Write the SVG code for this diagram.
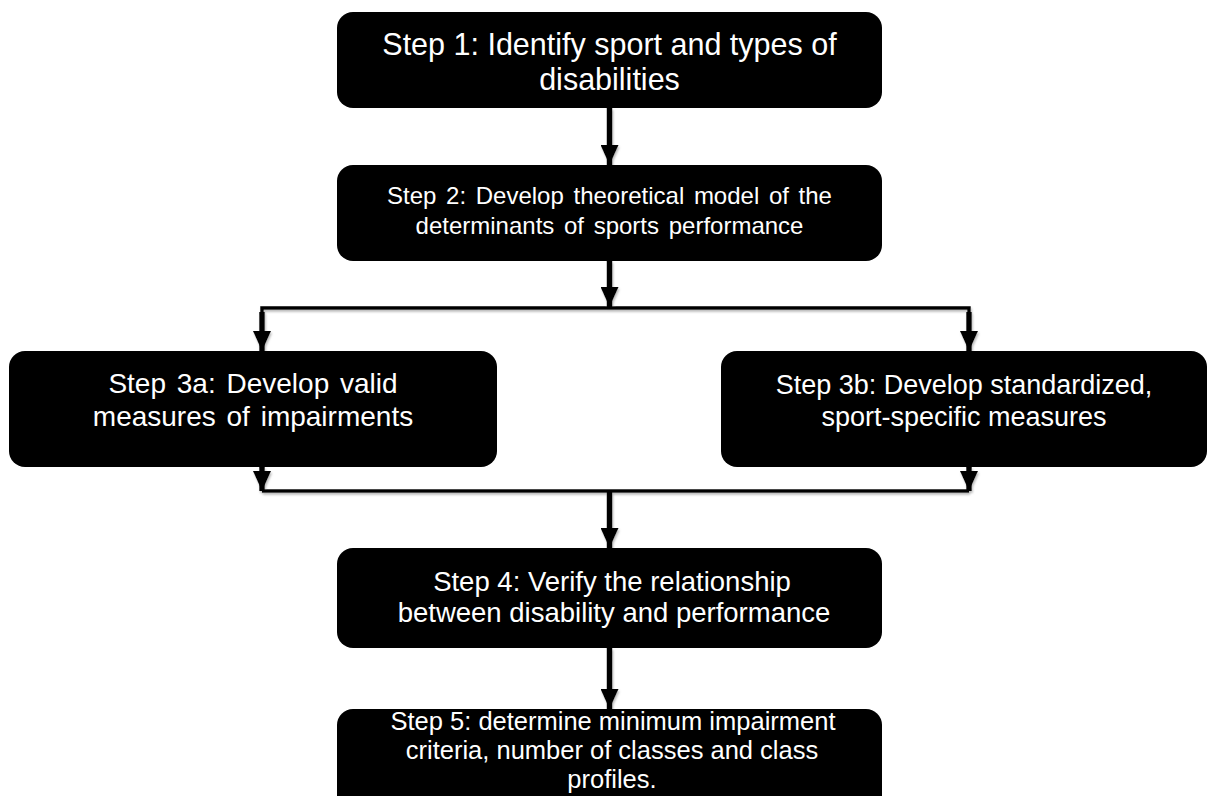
<svg xmlns="http://www.w3.org/2000/svg" width="1209" height="796" viewBox="0 0 1209 796">
<defs>
<style>
.box{fill:#000;}
.t{fill:#fff;font-family:"Liberation Sans",Arial,sans-serif;text-anchor:middle;}
.ln{stroke:#000;fill:none;stroke-width:3.5;}
.sh{stroke:#000;fill:none;stroke-width:5.5;}
</style>
<marker id="ah" viewBox="0 0 20 18" refX="20" refY="9" markerWidth="20" markerHeight="18" markerUnits="userSpaceOnUse" orient="auto">
<path d="M0,0 L20,9 L0,18 Z" fill="#000"/>
</marker>
<filter id="ds" x="-5%" y="-5%" width="110%" height="120%">
<feDropShadow dx="1" dy="2" stdDeviation="1" flood-color="#888" flood-opacity="0.6"/>
</filter>
</defs>
<rect width="1209" height="796" fill="#fff"/>
<g id="connectors" filter="url(#ds)">
<line class="sh" x1="609.5" y1="108" x2="609.5" y2="165" marker-end="url(#ah)"/>
<line class="sh" x1="609.5" y1="261" x2="609.5" y2="307" marker-end="url(#ah)"/>
<polyline class="ln" points="262,351 262,308 969,308 969,351"/>
<line class="sh" x1="262" y1="312" x2="262" y2="351" marker-end="url(#ah)"/>
<line class="sh" x1="969" y1="312" x2="969" y2="351" marker-end="url(#ah)"/>
<line class="sh" x1="262" y1="467" x2="262" y2="491" marker-end="url(#ah)"/>
<line class="sh" x1="969" y1="467" x2="969" y2="491" marker-end="url(#ah)"/>
<line class="ln" x1="262" y1="491" x2="969" y2="491"/>
<line class="sh" x1="609.5" y1="492" x2="609.5" y2="548" marker-end="url(#ah)"/>
<line class="sh" x1="609.5" y1="648" x2="609.5" y2="709" marker-end="url(#ah)"/>
</g>
<g id="step1">
<rect class="box" x="337" y="12" width="545" height="96" rx="16"/>
<text class="t" font-size="30.5" x="609.5" y="55">Step 1: Identify sport and types of</text>
<text class="t" font-size="30.5" x="609.5" y="90">disabilities</text>
</g>
<g id="step2">
<rect class="box" x="337" y="165" width="545" height="96" rx="16"/>
<text class="t" font-size="24" word-spacing="3" x="609.5" y="204">Step 2: Develop theoretical model of the</text>
<text class="t" font-size="24" word-spacing="3" x="609.5" y="234">determinants of sports performance</text>
</g>
<g id="step3a">
<rect class="box" x="9" y="351" width="488" height="116" rx="16"/>
<text class="t" font-size="28" word-spacing="3" x="253" y="393">Step 3a: Develop valid</text>
<text class="t" font-size="28" word-spacing="3" x="253" y="426">measures of impairments</text>
</g>
<g id="step3b">
<rect class="box" x="721" y="351" width="486" height="116" rx="16"/>
<text class="t" font-size="27" x="964" y="394">Step 3b: Develop standardized,</text>
<text class="t" font-size="27" x="964" y="426">sport-specific measures</text>
</g>
<g id="step4">
<rect class="box" x="337" y="548" width="545" height="100" rx="16"/>
<text class="t" font-size="27.5" x="612" y="591">Step 4: Verify the relationship</text>
<text class="t" font-size="27.5" x="614" y="622">between disability and performance</text>
</g>
<g id="step5">
<rect class="box" x="337" y="709" width="545" height="110" rx="16"/>
<text class="t" font-size="25.5" x="613" y="730">Step 5: determine minimum impairment</text>
<text class="t" font-size="25.5" x="612" y="759">criteria, number of classes and class</text>
<text class="t" font-size="25.5" x="612" y="788">profiles.</text>
</g>
</svg>
